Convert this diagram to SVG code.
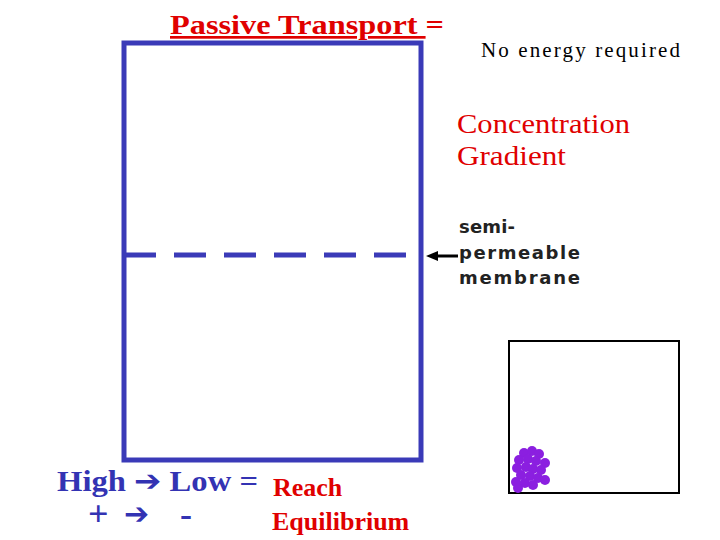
<svg xmlns="http://www.w3.org/2000/svg" width="720" height="540" viewBox="0 0 720 540">
<style>
.s{font-family:"Liberation Serif",serif;font-weight:bold}
.b{fill:#3333b3}.r{fill:#e00000}
.d{fill:#8b1fe0}
</style>
<rect width="720" height="540" fill="#fff"/>
<text class="s r" x="170" y="34" font-size="27" textLength="274" lengthAdjust="spacingAndGlyphs"><tspan text-decoration="underline">Passive Transport </tspan>=</text>
<text x="481" y="57" font-family="Liberation Serif,serif" font-size="21" fill="#000" textLength="199">No energy required</text>
<text x="457" y="133" font-family="Liberation Serif,serif" font-size="27" class="r" textLength="173" lengthAdjust="spacingAndGlyphs">Concentration</text>
<text x="457" y="165" font-family="Liberation Serif,serif" font-size="27" class="r" textLength="109" lengthAdjust="spacingAndGlyphs">Gradient</text>
<g id="container"><rect x="124" y="43" width="297" height="417" fill="none" stroke="#3a3ab8" stroke-width="5"/></g>
<g id="membrane"><line x1="124" y1="255" x2="421" y2="255" stroke="#3a3ab8" stroke-width="5" stroke-dasharray="32,18"/></g>
<g id="connectors"><line x1="436" y1="256" x2="458" y2="256" stroke="#000" stroke-width="3"/><path d="M426,256 L438,251 L438,261Z" fill="#000"/></g>
<g id="label" font-family="DejaVu Sans,sans-serif" font-weight="bold" font-size="18" fill="#222">
<text x="459" y="233" textLength="56">semi-</text><text x="459" y="259" textLength="121">permeable</text><text x="459" y="284" textLength="121">membrane</text></g>
<g id="box"><rect x="509" y="341" width="170" height="152" fill="none" stroke="#000" stroke-width="2"/>
<g class="d">
<circle cx="524" cy="453" r="5"/><circle cx="532" cy="451" r="5"/><circle cx="539" cy="454" r="5"/>
<circle cx="519" cy="460" r="5"/><circle cx="528" cy="459" r="5"/><circle cx="536" cy="461" r="5"/><circle cx="545" cy="463" r="5"/>
<circle cx="517" cy="468" r="5"/><circle cx="526" cy="467" r="5"/><circle cx="533" cy="469" r="5"/><circle cx="541" cy="470" r="5"/>
<circle cx="521" cy="475" r="5"/><circle cx="530" cy="476" r="5"/><circle cx="538" cy="478" r="5"/><circle cx="545" cy="480" r="5"/>
<circle cx="516" cy="482" r="5"/><circle cx="525" cy="483" r="5"/><circle cx="533" cy="485" r="5"/><circle cx="518" cy="488" r="5"/>
</g></g>
<text class="s b" x="57" y="491" font-size="29" textLength="201" lengthAdjust="spacingAndGlyphs">High <tspan font-family="DejaVu Sans,sans-serif">➔</tspan> Low =</text>
<text class="s b" x="88" y="526" font-size="36">+</text>
<text class="b" x="124" y="524" font-family="DejaVu Sans,sans-serif" font-weight="bold" font-size="30">➔</text>
<text class="s b" x="180" y="526" font-size="36">-</text>
<text class="s r" x="273" y="496" font-size="26">Reach</text>
<text class="s r" x="272" y="530" font-size="26">Equilibrium</text>
</svg>
